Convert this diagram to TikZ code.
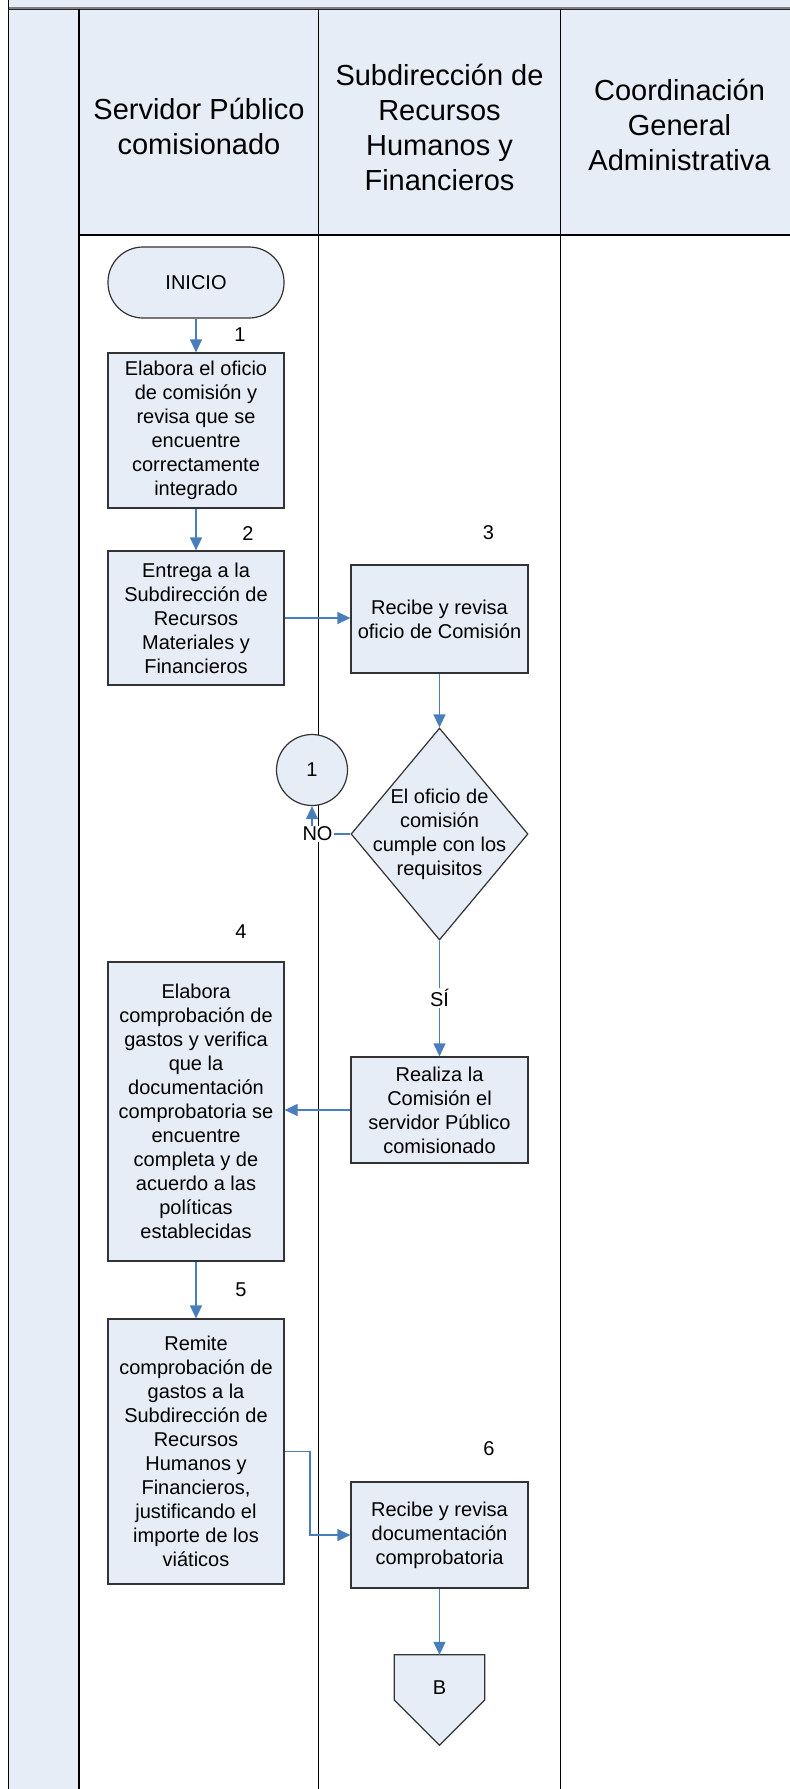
\documentclass[tikz,border=0pt]{standalone}
\usepackage{fontspec}
\setmainfont{Liberation Sans}
\usetikzlibrary{arrows.meta,shapes.geometric}
\definecolor{lb}{RGB}{231,237,247}
\definecolor{ab}{RGB}{74,126,187}
\begin{document}
\begin{tikzpicture}[x=1pt,y=-1pt,
  box/.style={draw=black!80, line width=1.2pt, fill=lb, inner sep=0pt, align=center, font=\fontsize{20}{24}\selectfont},
  arr/.style={draw=ab, line width=1.2pt, -{Triangle[length=13pt,width=12pt]}},
  lane/.style={draw=black, line width=1.4pt},
  lbl/.style={font=\fontsize{20}{24}\selectfont, inner sep=1pt, align=center},
  hdr/.style={align=center, font=\fontsize{29}{35}\selectfont},
]
\useasboundingbox (0,0) rectangle (790,1789);
% backgrounds
\fill[lb] (8,0) rectangle (790,235);
\fill[lb] (8,0) rectangle (79,1789);
\draw[gray, line width=2pt] (8,7.5) -- (790,7.5);
\draw[black!85, line width=1.2pt] (8,9.5) -- (790,9.5);
\draw[lane] (79,235) -- (790,235);
\draw[lane] (8.3,0) -- (8.3,1789);
\draw[lane] (79,9) -- (79,1789);
\draw[lane] (318.5,9) -- (318.5,1789);
\draw[lane] (560.5,9) -- (560.5,1789);
% headers
\node[hdr] (h1) at (199,126) {Servidor Público\\comisionado};
\node[hdr] (h2) at (439.5,127) {Subdirección de\\Recursos\\Humanos y\\Financieros};
\node[hdr] (h3) at (679.5,125) {Coordinación\\General\\Administrativa};
% shapes
\node[box, rounded corners=35pt, minimum width=176pt, minimum height=71pt] (ini) at (196,282.5) {INICIO};
\node[box, minimum width=176pt, minimum height=155pt] (b1) at (196,430.5) {Elabora el oficio\\de comisión y\\revisa que se\\encuentre\\correctamente\\integrado};
\node[box, minimum width=176pt, minimum height=134pt] (b2) at (196,618) {Entrega a la\\Subdirección de\\Recursos\\Materiales y\\Financieros};
\node[box, minimum width=177pt, minimum height=108pt] (b3) at (439.5,619) {Recibe y revisa\\oficio de Comisión};
\node[diamond, draw=black!80, line width=1.2pt, fill=lb, minimum width=177pt, minimum height=212pt, inner sep=0pt] (dia) at (439.5,834) {};
\node[lbl] (diat) at (dia.center) {El oficio de\\comisión\\cumple con los\\requisitos};
\node[circle, draw=black!80, line width=1.2pt, fill=lb, minimum size=71pt, inner sep=0pt, font=\fontsize{20}{24}\selectfont] (c1) at (312,770) {1};
\node[box, minimum width=177pt, minimum height=106pt] (re) at (439.5,1110) {Realiza la\\Comisión el\\servidor Público\\comisionado};
\node[box, minimum width=176pt, minimum height=299pt] (b4) at (196,1111.5) {Elabora\\comprobación de\\gastos y verifica\\que la\\documentación\\comprobatoria se\\encuentre\\completa y de\\acuerdo a las\\políticas\\establecidas};
\node[box, minimum width=176pt, minimum height=265pt] (b5) at (196,1451.5) {Remite\\comprobación de\\gastos a la\\Subdirección de\\Recursos\\Humanos y\\Financieros,\\justificando el\\importe de los\\viáticos};
\node[box, minimum width=177pt, minimum height=106pt] (b6) at (439.5,1535) {Recibe y revisa\\documentación\\comprobatoria};
\node[inner sep=0pt, minimum width=90pt, minimum height=90pt] (B) at (439.5,1700) {};
\draw[draw=black!80, line width=1.2pt, fill=lb] (B.north west) -- (B.north east) -- (B.east) -- (B.south) -- (B.west) -- cycle;
\node[lbl] (Bt) at (439.5,1688) {B};
% step numbers
\node[lbl] (n1) at (240,335) {1};
\node[lbl] (n2) at (248,534) {2};
\node[lbl] (n3) at (488.5,533) {3};
\node[lbl] (n4) at (241,932) {4};
\node[lbl] (n5) at (241,1290) {5};
\node[lbl] (n6) at (489,1449) {6};
% connectors
\coordinate (nocorner) at (312,834);
\coordinate (j56) at (310,1451.5);
\draw[arr] (ini) -- (b1);
\draw[arr] (b1) -- (b2);
\draw[arr] (b2.east) -- (b2.east -| b3.west);
\draw[arr] (b3) -- (dia);
\draw[arr] (dia.west) -- (nocorner) -- (c1.south);
\draw[arr] (dia.south) -- (re.north);
\draw[arr] (re.west) -- (re.west -| b4.east);
\draw[arr] (b4) -- (b5);
\draw[arr] (b5.east) -- (j56) |- (b6.west);
\draw[arr] (b6) -- (B.north);
% labels on connectors
\node[lbl, fill=white] (no) at (317.5,834) {NO};
\node[lbl, fill=white] (si) at (439.5,998) {SÍ};
\end{tikzpicture}
\end{document}
